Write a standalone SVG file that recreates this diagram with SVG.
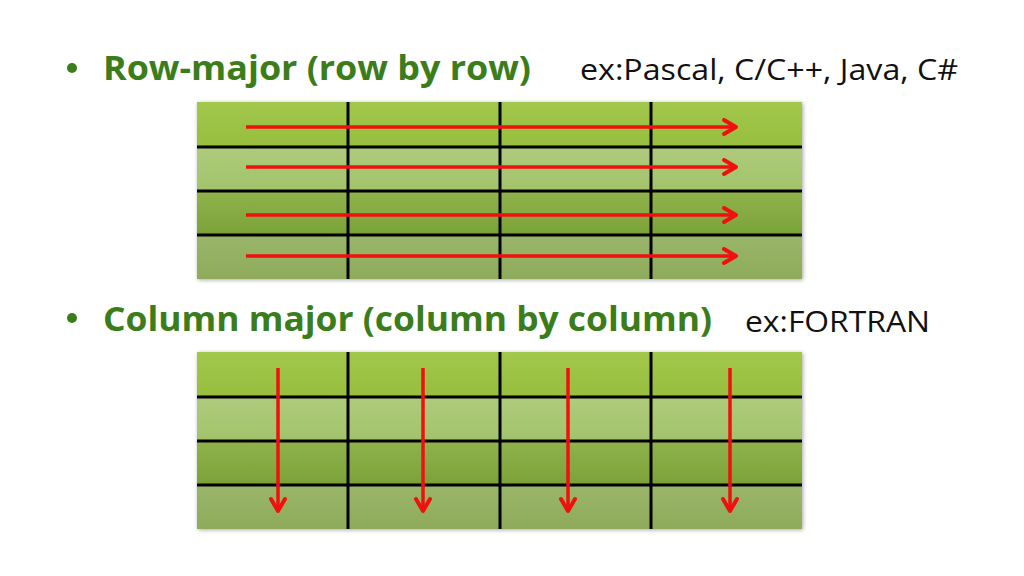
<svg xmlns="http://www.w3.org/2000/svg" width="1024" height="576" viewBox="0 0 1024 576">
<style>
.h{font-family:"Open Sans","Liberation Sans",Arial,sans-serif;font-weight:bold;font-size:34px;fill:#3a7d1a}
.t{font-family:"Open Sans","Liberation Sans",Arial,sans-serif;font-size:29px;fill:#111}
.g{stroke:#000;stroke-width:3;fill:none}
.a{stroke:#f01010;stroke-width:3.5;fill:none}
.ah{stroke:#f01010;stroke-width:4;fill:none;stroke-linecap:round;stroke-linejoin:round}
</style>
<defs>
<linearGradient id="r1" x1="0" y1="0" x2="0" y2="1"><stop offset="0" stop-color="#a2c74c"/><stop offset="1" stop-color="#97be3e"/></linearGradient>
<linearGradient id="r2" x1="0" y1="0" x2="0" y2="1"><stop offset="0" stop-color="#aecb7c"/><stop offset="1" stop-color="#a2c36a"/></linearGradient>
<linearGradient id="r3" x1="0" y1="0" x2="0" y2="1"><stop offset="0" stop-color="#90b34c"/><stop offset="1" stop-color="#7aa238"/></linearGradient>
<linearGradient id="r4" x1="0" y1="0" x2="0" y2="1"><stop offset="0" stop-color="#9ab66a"/><stop offset="1" stop-color="#8eaa5a"/></linearGradient>
<filter id="sh" x="-5%" y="-10%" width="110%" height="120%"><feGaussianBlur in="SourceAlpha" stdDeviation="2"/><feOffset dx="1" dy="1"/><feComponentTransfer><feFuncA type="linear" slope="0.35"/></feComponentTransfer><feMerge><feMergeNode/><feMergeNode in="SourceGraphic"/></feMerge></filter>
</defs>
<rect width="1024" height="576" fill="#fff"/>

<g id="title1">
<circle cx="72" cy="68" r="5" fill="#3a7d1a"/>
<text class="h" x="103" y="80" textLength="428" lengthAdjust="spacingAndGlyphs">Row-major (row by row)</text>
<text class="t" x="580" y="80" textLength="378" lengthAdjust="spacingAndGlyphs">ex:Pascal, C/C++, Java, C#</text>
</g>

<g id="table1" filter="url(#sh)">
<rect x="197" y="102" width="605" height="45" fill="url(#r1)"/>
<rect x="197" y="147" width="605" height="44" fill="url(#r2)"/>
<rect x="197" y="191" width="605" height="44" fill="url(#r3)"/>
<rect x="197" y="235" width="605" height="44" fill="url(#r4)"/>
<g class="g">
<line x1="197" y1="147" x2="802" y2="147"/>
<line x1="197" y1="191" x2="802" y2="191"/>
<line x1="197" y1="235" x2="802" y2="235"/>
<line x1="348" y1="102" x2="348" y2="279"/>
<line x1="500" y1="102" x2="500" y2="279"/>
<line x1="651" y1="102" x2="651" y2="279"/>
</g>
</g>

<g id="title2">
<circle cx="72" cy="318" r="5" fill="#3a7d1a"/>
<text class="h" x="103" y="331" textLength="609" lengthAdjust="spacingAndGlyphs">Column major (column by column)</text>
<text class="t" x="745" y="332" textLength="185" lengthAdjust="spacingAndGlyphs">ex:FORTRAN</text>
</g>

<g id="table2" filter="url(#sh)">
<rect x="197" y="352" width="605" height="45" fill="url(#r1)"/>
<rect x="197" y="397" width="605" height="44" fill="url(#r2)"/>
<rect x="197" y="441" width="605" height="44" fill="url(#r3)"/>
<rect x="197" y="485" width="605" height="44" fill="url(#r4)"/>
<g class="g">
<line x1="197" y1="397" x2="802" y2="397"/>
<line x1="197" y1="441" x2="802" y2="441"/>
<line x1="197" y1="485" x2="802" y2="485"/>
<line x1="348" y1="352" x2="348" y2="529"/>
<line x1="500" y1="352" x2="500" y2="529"/>
<line x1="651" y1="352" x2="651" y2="529"/>
</g>
</g>

<g id="connectors">
<g class="a">
<line x1="246" y1="127" x2="735" y2="127"/>
<line x1="246" y1="167" x2="735" y2="167"/>
<line x1="246" y1="215" x2="735" y2="215"/>
<line x1="246" y1="256" x2="735" y2="256"/>
<line x1="278" y1="368" x2="278" y2="510"/>
<line x1="423" y1="368" x2="423" y2="510"/>
<line x1="568" y1="368" x2="568" y2="510"/>
<line x1="730" y1="368" x2="730" y2="510"/>
</g>
<g class="ah">
<polyline points="724,120 736,127 724,134"/>
<polyline points="724,160 736,167 724,174"/>
<polyline points="724,208 736,215 724,222"/>
<polyline points="724,249 736,256 724,263"/>
<polyline points="271,499 278,511 285,499"/>
<polyline points="416,499 423,511 430,499"/>
<polyline points="561,499 568,511 575,499"/>
<polyline points="723,499 730,511 737,499"/>
</g>
</g>
</svg>
